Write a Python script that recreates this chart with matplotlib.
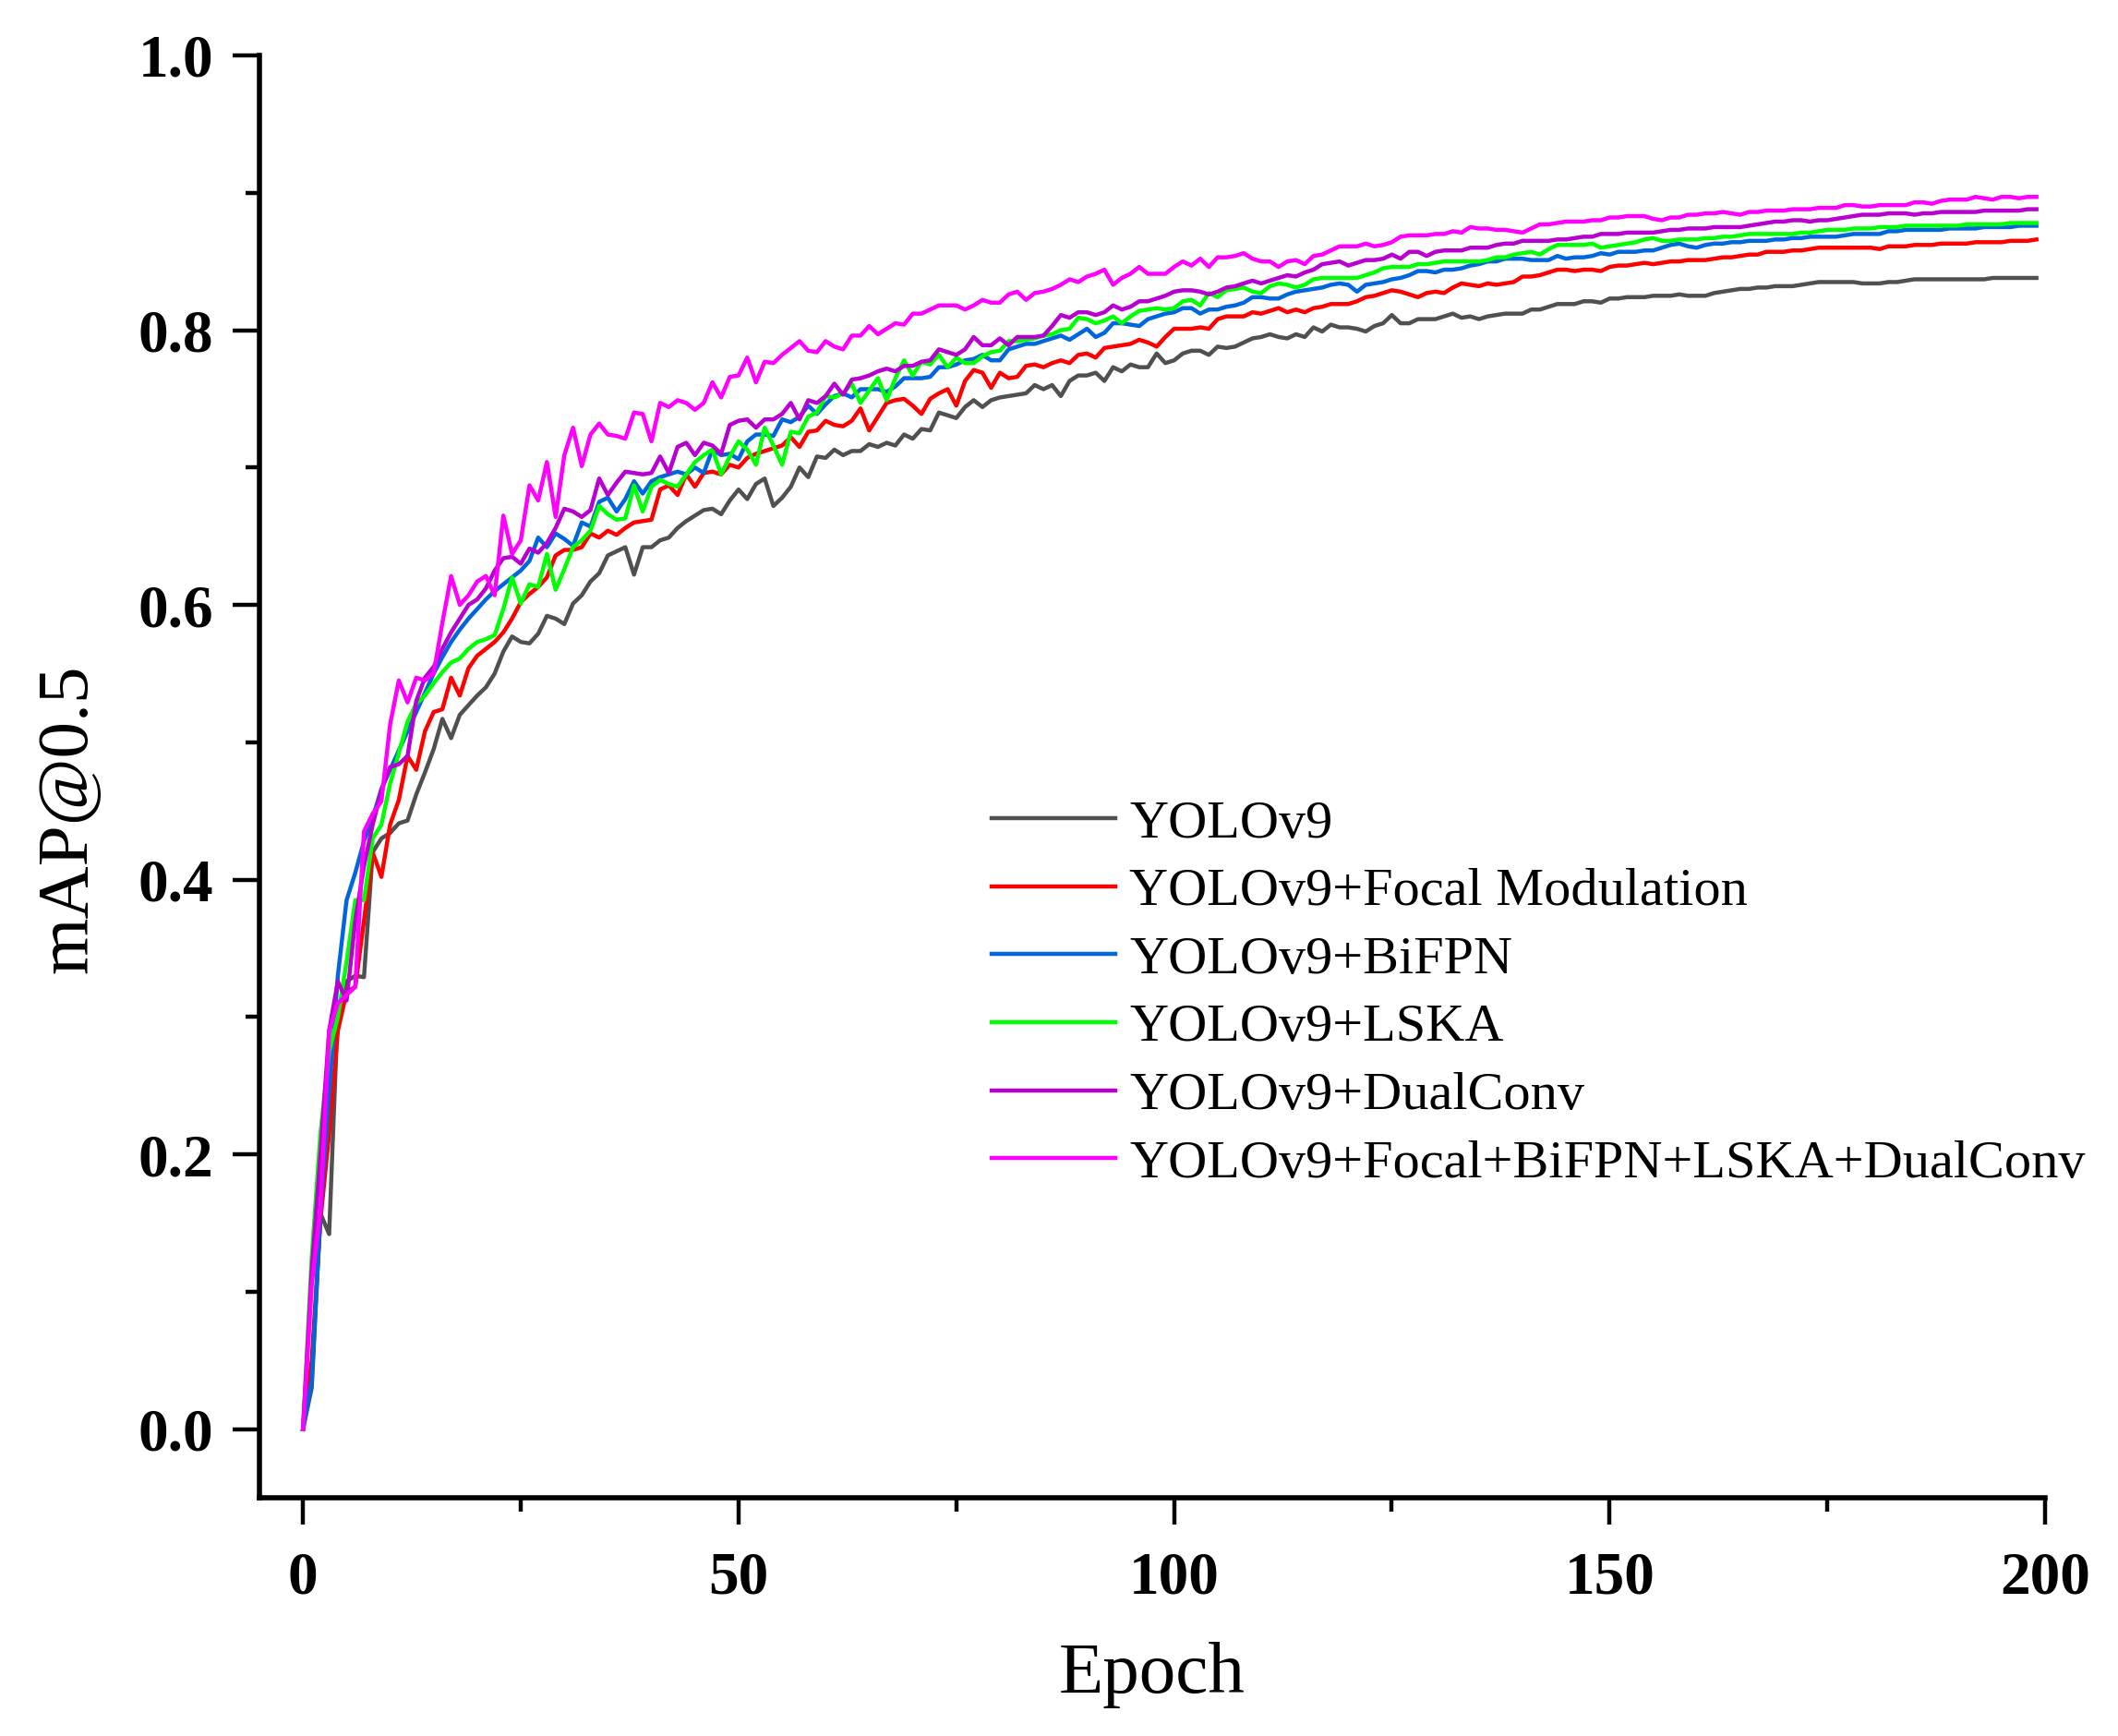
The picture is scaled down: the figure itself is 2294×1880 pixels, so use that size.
import numpy as np
import matplotlib
matplotlib.use("Agg")
import matplotlib.pyplot as plt
from matplotlib.ticker import MultipleLocator, FormatStrFormatter

plt.rcParams['font.family'] = ['Liberation Serif', 'DejaVu Serif']

# mAP@0.5 per epoch, in thousandths
yolov9 = [0, 30, 157, 142, 305, 326, 330, 329, 420, 430,
          434, 441, 443, 462, 478, 495, 517, 503, 520, 527,
          534, 540, 550, 566, 577, 573, 572, 579, 592, 590,
          586, 601, 607, 617, 623, 636, 639, 642, 622, 642,
          642, 647, 649, 656, 661, 665, 669, 670, 666, 676,
          684, 677, 688, 692, 672, 678, 686, 700, 693, 708,
          707, 713, 709, 712, 712, 717, 715, 718, 716, 724,
          721, 728, 727, 740, 738, 736, 744, 749, 744, 749,
          751, 752, 753, 754, 760, 757, 760, 752, 763, 767,
          767, 769, 763, 773, 770, 775, 773, 773, 783, 776,
          778, 783, 785, 785, 782, 788, 787, 788, 791, 794,
          795, 797, 795, 794, 797, 795, 802, 799, 804, 802,
          802, 801, 799, 803, 805, 811, 805, 805, 808, 808,
          808, 810, 812, 809, 810, 808, 810, 811, 812, 812,
          812, 815, 815, 817, 819, 819, 819, 821, 821, 820,
          823, 823, 824, 824, 824, 825, 825, 825, 826, 825,
          825, 825, 827, 828, 829, 830, 830, 831, 831, 832,
          832, 832, 833, 834, 835, 835, 835, 835, 835, 834,
          834, 834, 835, 835, 836, 837, 837, 837, 837, 837,
          837, 837, 837, 837, 838, 838, 838, 838, 838, 838]

focal = [0, 50, 152, 215, 290, 318, 322, 370, 420, 402,
         440, 458, 490, 480, 508, 522, 524, 547, 534, 554,
         563, 568, 573, 580, 590, 602, 608, 613, 620, 636,
         640, 640, 642, 652, 649, 654, 651, 656, 660, 661,
         662, 684, 687, 680, 695, 686, 696, 697, 695, 702,
         700, 707, 710, 712, 714, 716, 722, 715, 726, 727,
         734, 731, 730, 734, 743, 727, 737, 747, 749, 750,
         745, 739, 750, 754, 757, 745, 763, 771, 769, 758,
         769, 765, 766, 774, 775, 773, 776, 778, 776, 782,
         783, 780, 787, 788, 789, 790, 793, 791, 788, 795,
         801, 801, 801, 802, 801, 808, 810, 810, 810, 813,
         812, 814, 816, 813, 815, 813, 816, 817, 819, 819,
         819, 821, 824, 825, 827, 829, 828, 826, 824, 827,
         828, 827, 831, 834, 833, 832, 834, 833, 834, 835,
         839, 839, 840, 842, 844, 844, 843, 844, 844, 843,
         846, 847, 847, 848, 849, 848, 849, 850, 850, 851,
         851, 851, 852, 853, 853, 854, 855, 855, 857, 857,
         857, 858, 858, 859, 860, 860, 860, 860, 860, 860,
         860, 859, 861, 861, 861, 862, 862, 862, 863, 863,
         863, 863, 864, 864, 864, 864, 865, 865, 865, 866]

bifpn = [0, 35, 157, 245, 330, 385, 405, 428, 445, 466,
         480, 494, 508, 522, 536, 550, 562, 573, 582, 590,
         597, 604, 610, 615, 620, 625, 632, 649, 642, 652,
         648, 643, 660, 657, 675, 678, 668, 677, 690, 681,
         690, 693, 695, 697, 695, 700, 696, 713, 709, 710,
         706, 719, 724, 724, 723, 735, 733, 737, 745, 739,
         746, 752, 754, 751, 757, 757, 757, 755, 759, 765,
         765, 765, 766, 773, 773, 775, 778, 779, 782, 778,
         778, 786, 788, 790, 790, 792, 794, 796, 793, 797,
         801, 795, 798, 805, 805, 804, 803, 808, 810, 812,
         813, 816, 816, 812, 815, 815, 817, 818, 820, 824,
         824, 823, 823, 826, 828, 829, 830, 831, 833, 834,
         833, 828, 833, 834, 835, 837, 838, 840, 843, 843,
         842, 844, 844, 845, 847, 848, 850, 850, 852, 852,
         852, 851, 851, 851, 854, 852, 853, 853, 854, 856,
         855, 857, 857, 857, 858, 858, 860, 862, 863, 861,
         860, 862, 863, 863, 864, 864, 865, 865, 865, 866,
         866, 867, 867, 868, 868, 868, 868, 869, 870, 870,
         870, 870, 872, 872, 873, 873, 873, 873, 873, 874,
         874, 874, 874, 875, 875, 875, 875, 876, 876, 876]

lska = [0, 125, 215, 275, 300, 340, 385, 385, 430, 440,
        470, 492, 515, 528, 534, 543, 551, 558, 561, 568,
        573, 575, 578, 597, 620, 601, 615, 613, 637, 611,
        626, 642, 647, 654, 672, 666, 662, 663, 687, 668,
        686, 691, 688, 686, 695, 704, 709, 713, 695, 708,
        719, 713, 702, 729, 716, 702, 726, 725, 737, 740,
        752, 751, 754, 761, 747, 756, 765, 749, 765, 778,
        767, 777, 775, 782, 773, 780, 776, 776, 781, 784,
        785, 792, 792, 793, 794, 796, 797, 800, 801, 809,
        808, 805, 807, 810, 805, 810, 814, 815, 816, 815,
        816, 821, 822, 818, 827, 824, 829, 830, 831, 828,
        827, 832, 834, 833, 831, 833, 837, 838, 838, 838,
        838, 838, 840, 842, 845, 846, 846, 846, 848, 848,
        849, 850, 850, 850, 850, 850, 851, 853, 853, 855,
        856, 857, 855, 859, 862, 862, 862, 862, 863, 860,
        861, 862, 863, 864, 866, 867, 865, 865, 866, 866,
        866, 867, 867, 868, 868, 869, 870, 870, 870, 870,
        870, 870, 871, 871, 872, 873, 873, 873, 874, 874,
        874, 875, 875, 875, 876, 876, 876, 876, 876, 876,
        876, 877, 877, 877, 877, 877, 878, 878, 878, 878]

dualconv = [0, 115, 200, 290, 326, 312, 370, 410, 440, 465,
            482, 484, 490, 530, 547, 555, 568, 580, 590, 600,
            604, 612, 625, 634, 635, 630, 641, 638, 645, 656,
            670, 668, 664, 669, 692, 680, 689, 697, 696, 695,
            696, 708, 696, 715, 718, 709, 718, 716, 710, 731,
            734, 735, 729, 735, 735, 739, 747, 735, 749, 747,
            752, 761, 753, 764, 765, 767, 770, 772, 770, 774,
            774, 777, 778, 786, 784, 782, 786, 795, 789, 789,
            794, 789, 795, 795, 795, 796, 803, 811, 809, 813,
            813, 811, 813, 818, 815, 817, 821, 821, 823, 825,
            828, 829, 829, 828, 826, 828, 831, 832, 834, 836,
            834, 836, 838, 840, 839, 842, 844, 848, 849, 850,
            847, 849, 851, 851, 852, 855, 852, 857, 857, 854,
            857, 858, 858, 858, 860, 860, 860, 862, 863, 863,
            865, 865, 865, 865, 866, 866, 867, 868, 868, 870,
            870, 870, 871, 871, 871, 871, 872, 873, 873, 874,
            874, 874, 875, 875, 875, 875, 876, 877, 878, 879,
            879, 880, 880, 879, 880, 880, 881, 882, 883, 884,
            884, 884, 885, 885, 885, 884, 885, 885, 886, 886,
            886, 886, 886, 887, 887, 887, 887, 887, 888, 888]

combined = [0, 105, 160, 290, 310, 316, 322, 435, 448, 457,
            513, 545, 529, 547, 545, 550, 587, 621, 600, 607,
            617, 621, 607, 665, 637, 647, 687, 676, 704, 664,
            709, 729, 701, 724, 732, 724, 723, 721, 740, 739,
            719, 747, 744, 749, 747, 742, 747, 762, 751, 766,
            767, 780, 762, 777, 776, 782, 787, 792, 785, 784,
            792, 788, 786, 796, 796, 803, 797, 801, 805, 804,
            812, 812, 815, 818, 818, 818, 815, 818, 822, 820,
            820, 826, 828, 822, 827, 828, 830, 833, 837, 835,
            839, 841, 844, 833, 838, 841, 846, 841, 841, 841,
            846, 850, 847, 852, 846, 853, 853, 854, 856, 852,
            850, 850, 846, 850, 851, 848, 854, 855, 858, 861,
            861, 861, 863, 861, 862, 864, 868, 869, 869, 869,
            870, 870, 872, 871, 875, 874, 874, 873, 873, 872,
            871, 874, 877, 877, 878, 879, 879, 879, 880, 880,
            882, 882, 883, 883, 883, 881, 880, 882, 882, 884,
            884, 885, 885, 886, 885, 884, 886, 886, 887, 887,
            887, 888, 888, 888, 889, 889, 889, 891, 891, 890,
            890, 891, 891, 891, 891, 893, 893, 892, 894, 895,
            895, 895, 897, 896, 895, 897, 897, 896, 897, 897]

labels = ['YOLOv9', 'YOLOv9+Focal Modulation', 'YOLOv9+BiFPN', 'YOLOv9+LSKA',
          'YOLOv9+DualConv', 'YOLOv9+Focal+BiFPN+LSKA+DualConv']
series = [yolov9, focal, bifpn, lska, dualconv, combined]
colors = ['#505050', '#FF0000', '#0066DD', '#00FF00', '#B800D0', '#FF00FF']

epochs = np.arange(len(yolov9))

fig = plt.figure(figsize=(22.94, 18.80), dpi=100)
ax = fig.add_axes([0.1225, 0.1372, 0.8431, 0.8309])

for vals, lab, col in zip(series, labels, colors):
    ax.plot(epochs, np.array(vals) / 1000.0, color=col, lw=3.2, label=lab)

ax.set_xlim(-5, 200)
ax.set_ylim(-0.05, 1.0)
ax.xaxis.set_major_locator(MultipleLocator(50))
ax.xaxis.set_minor_locator(MultipleLocator(25))
ax.yaxis.set_major_locator(MultipleLocator(0.2))
ax.yaxis.set_minor_locator(MultipleLocator(0.1))
ax.yaxis.set_major_formatter(FormatStrFormatter('%.1f'))

ax.spines['top'].set_visible(False)
ax.spines['right'].set_visible(False)
for s in ['left', 'bottom']:
    ax.spines[s].set_linewidth(4)

ax.tick_params(which='major', direction='out', length=21, width=3.2)
ax.tick_params(which='minor', direction='out', length=10.5, width=3.2)
ax.tick_params(axis='x', which='major', pad=20)
ax.tick_params(axis='y', which='major', pad=15)
for t in ax.get_xticklabels() + ax.get_yticklabels():
    t.set_fontsize(47)
    t.set_fontweight('bold')

ax.set_xlabel('Epoch', fontsize=57, labelpad=28)
ax.set_ylabel('mAP@0.5', fontsize=57)
ax.yaxis.set_label_coords(-0.088, 0.471)

ax.legend(loc='upper left', bbox_to_anchor=(1074 / 2294, 1 - 866 / 1880),
          bbox_transform=fig.transFigure, frameon=False, fontsize=42,
          handlelength=2.3, handletextpad=0.26, labelspacing=0.355,
          borderpad=0, borderaxespad=0)

fig.savefig('out.png', dpi=100)
